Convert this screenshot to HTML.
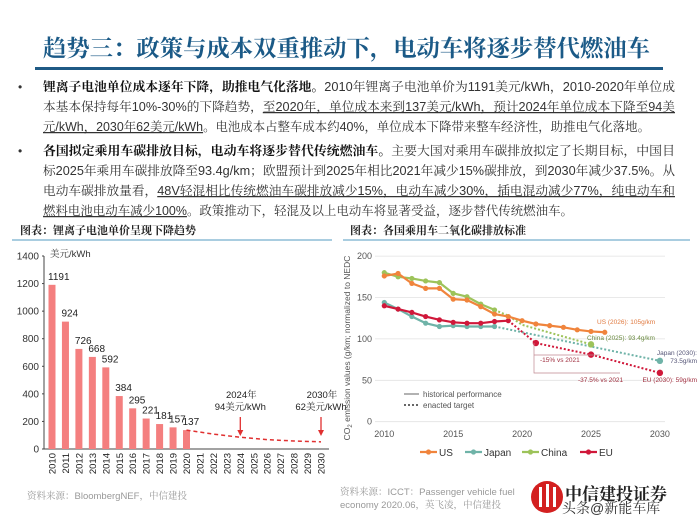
<!DOCTYPE html>
<html><head><meta charset="utf-8"><style>
html,body{margin:0;padding:0;background:#fff;width:700px;height:525px;overflow:hidden}
svg{display:block}
.cjk{font-family:"Liberation Sans","Noto Serif CJK SC",serif}
.sans{font-family:"Liberation Sans","Noto Sans CJK SC",sans-serif}
</style></head><body>
<svg id="page" width="700" height="525" viewBox="0 0 700 525">
<text x="43" y="56" class="cjk" font-size="23" font-weight="700" fill="#1b5a87" textLength="607" lengthAdjust="spacingAndGlyphs">趋势三：政策与成本双重推动下，电动车将逐步替代燃油车</text>
<rect x="35" y="67" width="628" height="3" fill="#1f5a85"/>
<g class="cjk" font-size="12.5" fill="#333">
<text x="18" y="91" font-size="12">•</text>
<text x="43" y="91" textLength="632" lengthAdjust="spacingAndGlyphs"><tspan font-weight="700" fill="#111">锂离子电池单位成本逐年下降，助推电气化落地。</tspan>2010年锂离子电池单价为1191美元/kWh，2010-2020年单位成</text>
<text x="43" y="111" textLength="632" lengthAdjust="spacingAndGlyphs">本基本保持每年10%-30%的下降趋势，<tspan text-decoration="underline">至2020年，单位成本来到137美元/kWh，预计2024年单位成本下降至94美</tspan></text>
<text x="43" y="131" textLength="607" lengthAdjust="spacingAndGlyphs"><tspan text-decoration="underline">元/kWh，2030年62美元/kWh</tspan>。电池成本占整车成本约40%，单位成本下降带来整车经济性，助推电气化落地。</text>
<text x="18" y="155" font-size="12">•</text>
<text x="43" y="155" textLength="632" lengthAdjust="spacingAndGlyphs"><tspan font-weight="700" fill="#111">各国拟定乘用车碳排放目标，电动车将逐步替代传统燃油车。</tspan>主要大国对乘用车碳排放拟定了长期目标，中国目</text>
<text x="43" y="175" textLength="632" lengthAdjust="spacingAndGlyphs">标2025年乘用车碳排放降至93.4g/km；欧盟预计到2025年相比2021年减少15%碳排放，到2030年减少37.5%。从</text>
<text x="43" y="195" textLength="632" lengthAdjust="spacingAndGlyphs">电动车碳排放量看，<tspan text-decoration="underline">48V轻混相比传统燃油车碳排放减少15%，电动车减少30%，插电混动减少77%，纯电动车和</tspan></text>
<text x="43" y="215" textLength="530" lengthAdjust="spacingAndGlyphs"><tspan text-decoration="underline">燃料电池电动车减少100%</tspan>。政策推动下，轻混及以上电动车将显著受益，逐步替代传统燃油车。</text>
</g>
<text x="20" y="234" class="cjk" font-size="11" font-weight="700" fill="#222">图表：锂离子电池单价呈现下降趋势</text>
<rect x="12" y="239" width="320" height="2" fill="#a9cde0"/>
<text x="350" y="234" class="cjk" font-size="11" font-weight="700" fill="#222">图表：各国乘用车二氧化碳排放标准</text>
<rect x="343" y="239" width="347" height="2" fill="#a9cde0"/>
<g id="left"></g>
<g id="right"></g>
<text x="27" y="499" class="cjk" font-size="9.5" fill="#999">资料来源：BloombergNEF，中信建投</text>
<text x="340" y="495" class="cjk" font-size="9.5" fill="#999">资料来源：ICCT：Passenger vehicle fuel</text>
<text x="340" y="508" class="cjk" font-size="9.5" fill="#999">economy 2020.06，英飞凌，中信建投</text>
<g>
<circle cx="547" cy="497" r="16" fill="#d32020"/>
<rect x="539" y="487" width="3" height="20" fill="#fff"/><rect x="546" y="484" width="3" height="23" fill="#fff"/><rect x="553" y="487" width="3" height="20" fill="#fff"/>
<text x="565" y="500" class="cjk" font-size="17" font-weight="700" fill="#222">中信建投证券</text>
<text x="562" y="513" class="cjk" font-size="14" fill="#333">头条@新能车库</text>
</g>
</svg>
<script>
// ---------- Left chart data ----------
const barYears = [2010,2011,2012,2013,2014,2015,2016,2017,2018,2019,2020];
const barValues = [1191,924,726,668,592,384,295,221,181,157,137];
const allYears = [2010,2011,2012,2013,2014,2015,2016,2017,2018,2019,2020,2021,2022,2023,2024,2025,2026,2027,2028,2029,2030];
const forecastYears = [2020,2022,2024,2026,2028,2030];
const forecastValues = [137,108,85,68,58,52];
const leftTicks = [0,200,400,600,800,1000,1200,1400];
// ---------- Right chart data ----------
const co2Ticks = [0,50,100,150,200];
const co2XTicks = [2010,2015,2020,2025,2030];
const usYears = [2010,2011,2012,2013,2014,2015,2016,2017,2018,2019,2020,2021,2022,2023,2024,2025,2026];
const usValues = [176,179,167,161,161,148,147,139,130,127,122,118,116,114,111,109,108];
const japanYears = [2010,2011,2012,2013,2014,2015,2016,2017,2018];
const japanValues = [144,136,127,119,115,116,115,115,115];
const japanTargetYears = [2018,2030];
const japanTargetValues = [115,73.5];
const chinaYears = [2010,2011,2012,2013,2014,2015,2016,2017,2018];
const chinaValues = [180,175,173,170,168,155,151,142,135];
const chinaTargetYears = [2018,2019,2020,2025];
const chinaTargetValues = [135,128,117,93.4];
const euYears = [2010,2011,2012,2013,2014,2015,2016,2017,2018,2019];
const euValues = [140,136,132,127,123,120,119,119,121,122];
const euTargetYears = [2019,2021,2025,2030];
const euTargetValues = [122,95,81,59];

const NS='http://www.w3.org/2000/svg';
function mk(parent,tag,attrs){const e=document.createElementNS(NS,tag);for(const k in attrs)e.setAttribute(k,attrs[k]);parent.appendChild(e);return e;}
const SANS='"Liberation Sans","Noto Sans CJK SC",sans-serif';
const SERIF='"Liberation Sans","Noto Serif CJK SC",serif';

// Left chart
const L=document.getElementById('left');
const lx=y=>52+(y-2010)*13.45;
const ly=v=>449-v*(193/1400);
mk(L,'line',{x1:44,y1:256,x2:44,y2:449,stroke:'#444','stroke-width':1});
mk(L,'line',{x1:44,y1:449,x2:329,y2:449,stroke:'#444','stroke-width':1});
leftTicks.forEach(t=>{
  const tx=mk(L,'text',{x:39,y:ly(t)+3.5,'text-anchor':'end','font-size':10,fill:'#333','font-family':SANS});
  tx.textContent=t;
  
  
  mk(L,'line',{x1:42,y1:ly(t),x2:44,y2:ly(t),stroke:'#444'});
});
const un=mk(L,'text',{x:50,y:257,'font-size':9.5,fill:'#333','font-family':SERIF});
un.textContent='美元/kWh';


barYears.forEach((yr,i)=>{
  const v=barValues[i];
  const r=mk(L,'rect',{x:lx(yr)-3.5,y:ly(v),width:7,height:ly(0)-ly(v),fill:'#f47f7f'});
  
  
  const t=mk(L,'text',{x:lx(yr)-4,y:ly(v)-5,'font-size':10,fill:'#222','font-family':SANS});
  t.textContent=v;
  
  
});
allYears.forEach(yr=>{
  const t=mk(L,'text',{x:0,y:0,'font-size':9.5,fill:'#222','font-family':SANS,'text-anchor':'end',transform:`translate(${lx(yr)+3.5},453) rotate(-90)`});
  t.textContent=yr;
  
  
});
const fp=mk(L,'polyline',{points:forecastYears.map((y,i)=>lx(y)+','+ly(forecastValues[i])).join(' '),fill:'none',stroke:'#e03030','stroke-width':1.5,'stroke-dasharray':'4,3'});


[[2024,'2024年','94美元/kWh'],[2030,'2030年','62美元/kWh']].forEach(a=>{
  const x=lx(a[0]);
  const g=mk(L,'g',{});
  
  
  mk(g,'line',{x1:x,y1:417,x2:x,y2:433,stroke:'#e03030','stroke-width':1.3});
  mk(g,'path',{d:`M${x-3},430 L${x+3},430 L${x},436 Z`,fill:'#e03030'});
  const t1=mk(g,'text',{x:x+1,y:398,'text-anchor':'middle','font-size':9.5,fill:'#222','font-family':SERIF});t1.textContent=a[1];
  const t2=mk(g,'text',{x:x,y:410,'text-anchor':'middle','font-size':9.5,fill:'#222','font-family':SERIF});t2.textContent=a[2];
});

// Right chart
const R=document.getElementById('right');
const rx=y=>384.3+(y-2010)*13.78;
const ry=v=>421.7-v*0.828;
co2Ticks.forEach(t=>{
  mk(R,'line',{x1:375,y1:ry(t),x2:665,y2:ry(t),stroke:'#e2e2e2','stroke-width':0.8});
  const tx=mk(R,'text',{x:372,y:ry(t)+3,'text-anchor':'end','font-size':9,fill:'#555','font-family':SANS});
  tx.textContent=t;
  
  
});
co2XTicks.forEach(t=>{
  const tx=mk(R,'text',{x:rx(t),y:437,'text-anchor':'middle','font-size':9,fill:'#555','font-family':SANS});
  tx.textContent=t;
  
  
});
const yt=mk(R,'text',{x:0,y:0,'font-size':8.5,fill:'#555','font-family':SANS,'text-anchor':'middle',transform:'translate(350,348) rotate(-90)'});
yt.innerHTML='CO<tspan font-size="6" dy="2">2</tspan><tspan dy="-2"> emission values (g/km; normalized to NEDC</tspan>';


function series(name,xs,vs,color,dotted,markers){
  const p=mk(R,'polyline',{points:xs.map((y,i)=>rx(y)+','+ry(vs[i])).join(' '),fill:'none',stroke:color,'stroke-width':dotted?2:2.2});
  if(dotted)p.setAttribute('stroke-dasharray','2,2');
  
  
  xs.forEach((y,i)=>{
    if(markers==='all'||(markers==='end'&&i>0)){
      const c=mk(R,'circle',{cx:rx(y),cy:ry(vs[i]),r:2.6,fill:color});
      
      
    }
  });
}
series('japan-target',japanTargetYears,japanTargetValues,'#6fb3a8',true,'none');
series('china-target',chinaTargetYears,chinaTargetValues,'#9dc35a',true,'none');
series('eu-target',euTargetYears,euTargetValues,'#d0183a',true,'none');
series('japan-line',japanYears,japanValues,'#6fb3a8',false,'all');
series('china-line',chinaYears,chinaValues,'#9dc35a',false,'all');
series('eu-line',euYears,euValues,'#d0183a',false,'all');
series('us-line',usYears,usValues,'#f0843c',false,'all');
[[2030,73.5,'#6fb3a8'],[2025,93.4,'#9dc35a'],[2021,95,'#d0183a'],[2025,81,'#d0183a'],[2030,59,'#d0183a']].forEach(p=>{
  const c=mk(R,'circle',{cx:rx(p[0]),cy:ry(p[1]),r:3.2,fill:p[2]});
  
  
});
// bracket
mk(R,'polyline',{points:'534,343 534,373 620,373',fill:'none',stroke:'#c08890','stroke-width':0.7});
mk(R,'line',{x1:534,y1:355,x2:600,y2:355,stroke:'#c08890','stroke-width':0.7});
const ann=[[597,324,'US (2026): 105g/km','#e07a40','start'],[587,340,'China (2025): 93.4g/km','#6a8a40','start'],[697,355,'Japan (2030):','#557','end'],[697,363,'73.5g/km','#557','end'],[540,362,'-15% vs 2021','#a03040','start'],[578,382,'-37.5% vs 2021','#a03040','start'],[697,382,'EU (2030): 59g/km','#a03040','end']];
ann.forEach(a=>{
  const t=mk(R,'text',{x:a[0],y:a[1],'font-size':6.5,fill:a[3],'font-family':SANS,'text-anchor':a[4]});
  t.textContent=a[2];
  
  
});
// inner legend
mk(R,'line',{x1:404,y1:394,x2:419,y2:394,stroke:'#666','stroke-width':1});
const h1=mk(R,'text',{x:423,y:397,'font-size':8,fill:'#555','font-family':SANS});h1.textContent='historical performance';


mk(R,'line',{x1:404,y1:405,x2:419,y2:405,stroke:'#666','stroke-width':2,'stroke-dasharray':'2,2'});
const h2=mk(R,'text',{x:423,y:408,'font-size':8,fill:'#555','font-family':SANS});h2.textContent='enacted target';


// bottom legend
[['US','#f0843c',420],['Japan','#6fb3a8',465],['China','#9dc35a',522],['EU','#d0183a',580]].forEach(l=>{
  const g=mk(R,'g',{});
  
  
  mk(g,'line',{x1:l[2],y1:452,x2:l[2]+17,y2:452,stroke:l[1],'stroke-width':2.2});
  mk(g,'circle',{cx:l[2]+8.5,cy:452,r:2.6,fill:l[1]});
  const t=mk(g,'text',{x:l[2]+19,y:456,'font-size':10,fill:'#333','font-family':SANS});t.textContent=l[0];
});
</script>
</body></html>
